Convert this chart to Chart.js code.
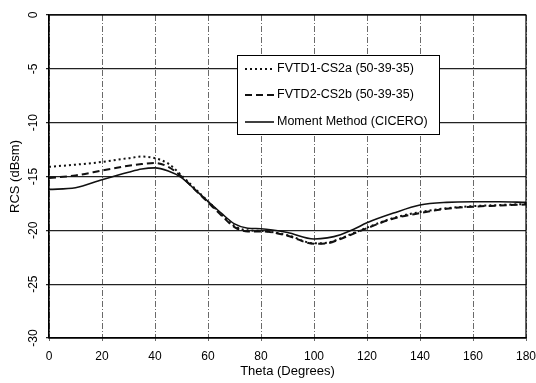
<!DOCTYPE html>
<html>
<head>
<meta charset="utf-8">
<script src="https://cdn.jsdelivr.net/npm/chart.js@4"></script>
<style>
  html, body { margin: 0; padding: 0; background: #fff; }
  #wrap { width: 536px; height: 383px; }
</style>
</head>
<body>
<div id="wrap"><canvas id="rcsChart" width="536" height="383"></canvas></div>
<script>
// theta in degrees
const theta = [0, 10, 20, 30, 35, 40, 45, 50, 55, 60, 65, 70, 75, 80, 90, 100, 105, 110, 115, 120, 130, 140, 150, 160, 170, 180]

// RCS values (dBsm)
const fvtd1 = [-14.1, -13.9, -13.65, -13.3, -13.15, -13.3, -13.8, -14.9, -16.1, -17.3, -18.5, -19.6, -20.0, -20.05, -20.45, -21.2, -21.15, -20.75, -20.25, -19.75, -18.85, -18.3, -17.95, -17.75, -17.65, -17.55]
const fvtd2 = [-15.15, -14.9, -14.45, -14.0, -13.85, -13.75, -14.1, -15.0, -16.2, -17.4, -18.6, -19.7, -20.1, -20.1, -20.5, -21.25, -21.2, -20.8, -20.3, -19.8, -18.9, -18.4, -18.0, -17.8, -17.7, -17.6]
const moment = [-16.2, -16.05, -15.3, -14.6, -14.3, -14.2, -14.5, -15.1, -16.2, -17.3, -18.4, -19.4, -19.8, -19.85, -20.2, -20.8, -20.7, -20.4, -19.9, -19.3, -18.4, -17.65, -17.4, -17.35, -17.35, -17.4]

const seriesNames = ["FVTD1-CS2a (50-39-35)", "FVTD2-CS2b (50-39-35)", "Moment Method (CICERO)"]

const xTicks = [0, 20, 40, 60, 80, 100, 120, 140, 160, 180]
const yTicks = [0, -5, -10, -15, -20, -25, -30]

const FONT = "'Liberation Sans', Arial, sans-serif"

function pts(ys){
    return theta.map((t, i) => ({ x: t, y: ys[i] }))
}

// frame + legend box drawn on top
const framePlugin = {
    id: "frame",
    afterDraw(chart){
        const c = chart.ctx
        const a = chart.chartArea
        c.save()
        c.strokeStyle = "#000"
        c.lineWidth = 1.2
        c.strokeRect(a.left, a.top, a.right - a.left, a.bottom - a.top)

        // legend
        const bx = 237, by = 55, bw = 202, bh = 79
        c.fillStyle = "#fff"
        c.fillRect(bx, by, bw, bh)
        c.strokeStyle = "#000"
        c.lineWidth = 1
        c.strokeRect(bx + 0.5, by + 0.5, bw, bh)

        c.font = "12.5px " + FONT
        c.textBaseline = "middle"
        c.fillStyle = "#000"
        const rows = [69, 95, 122]
        chart.data.datasets.forEach((ds, i) => {
            const y = rows[i]
            c.beginPath()
            c.setLineDash(ds.borderDash || [])
            c.lineWidth = ds.borderWidth
            c.strokeStyle = ds.borderColor
            c.moveTo(245, y)
            c.lineTo(274, y)
            c.stroke()
            c.setLineDash([])
            c.fillText(ds.label, 277, y)
        })
        c.restore()
    }
}

const ctx = document.getElementById("rcsChart")

new Chart(ctx, {
    type: "line",
    data: {
        datasets: [
            {
                label: seriesNames[0],
                data: pts(fvtd1),
                borderColor: "#111",
                borderWidth: 2,
                borderDash: [2, 3],
                pointRadius: 0,
                cubicInterpolationMode: "monotone",
                fill: false
            },
            {
                label: seriesNames[1],
                data: pts(fvtd2),
                borderColor: "#111",
                borderWidth: 2,
                borderDash: [7, 4],
                pointRadius: 0,
                cubicInterpolationMode: "monotone",
                fill: false
            },
            {
                label: seriesNames[2],
                data: pts(moment),
                borderColor: "#111",
                borderWidth: 1.6,
                borderDash: [],
                pointRadius: 0,
                cubicInterpolationMode: "monotone",
                fill: false
            }
        ]
    },
    options: {
        responsive: false,
        animation: false,
        layout: { padding: { top: 15, right: 10, left: 0, bottom: 0 } },
        plugins: {
            legend: { display: false },
            tooltip: { enabled: false }
        },
        scales: {
            x: {
                type: "linear",
                min: 0,
                max: 180,
                afterBuildTicks: s => { s.ticks = xTicks.map(v => ({ value: v })) },
                afterFit: s => {
                    s.height = 45
                    s.paddingLeft = 0
                    s.paddingRight = 0
                },
                grid: {
                    color: "#444",
                    lineWidth: 0.8,
                    tickLength: 3,
                    borderDash: [6, 2, 1, 2]
                },
                border: { display: true, color: "#000", width: 1.2, dash: [6, 2, 1, 2] },
                ticks: {
                    color: "#000",
                    font: { family: FONT, size: 12 },
                    padding: 8,
                    maxRotation: 0
                },
                title: {
                    display: true,
                    text: "Theta (Degrees)",
                    color: "#000",
                    font: { family: FONT, size: 13 },
                    padding: { top: 0 }
                }
            },
            y: {
                type: "linear",
                min: -30,
                max: 0,
                afterBuildTicks: s => { s.ticks = yTicks.map(v => ({ value: v })) },
                afterFit: s => {
                    s.width = 49
                    s.paddingTop = 0
                    s.paddingBottom = 0
                },
                grid: {
                    color: "#222",
                    lineWidth: 1.2,
                    tickLength: 3
                },
                border: { display: true, color: "#000", width: 1.2 },
                ticks: {
                    color: "#000",
                    font: { family: FONT, size: 12 },
                    minRotation: 90,
                    maxRotation: 90,
                    crossAlign: "center",
                    padding: 4
                },
                title: {
                    display: true,
                    text: "RCS (dBsm)",
                    color: "#000",
                    font: { family: FONT, size: 13 },
                    padding: { top: 8, bottom: 0 }
                }
            }
        }
    },
    plugins: [framePlugin]
})
</script>
</body>
</html>
